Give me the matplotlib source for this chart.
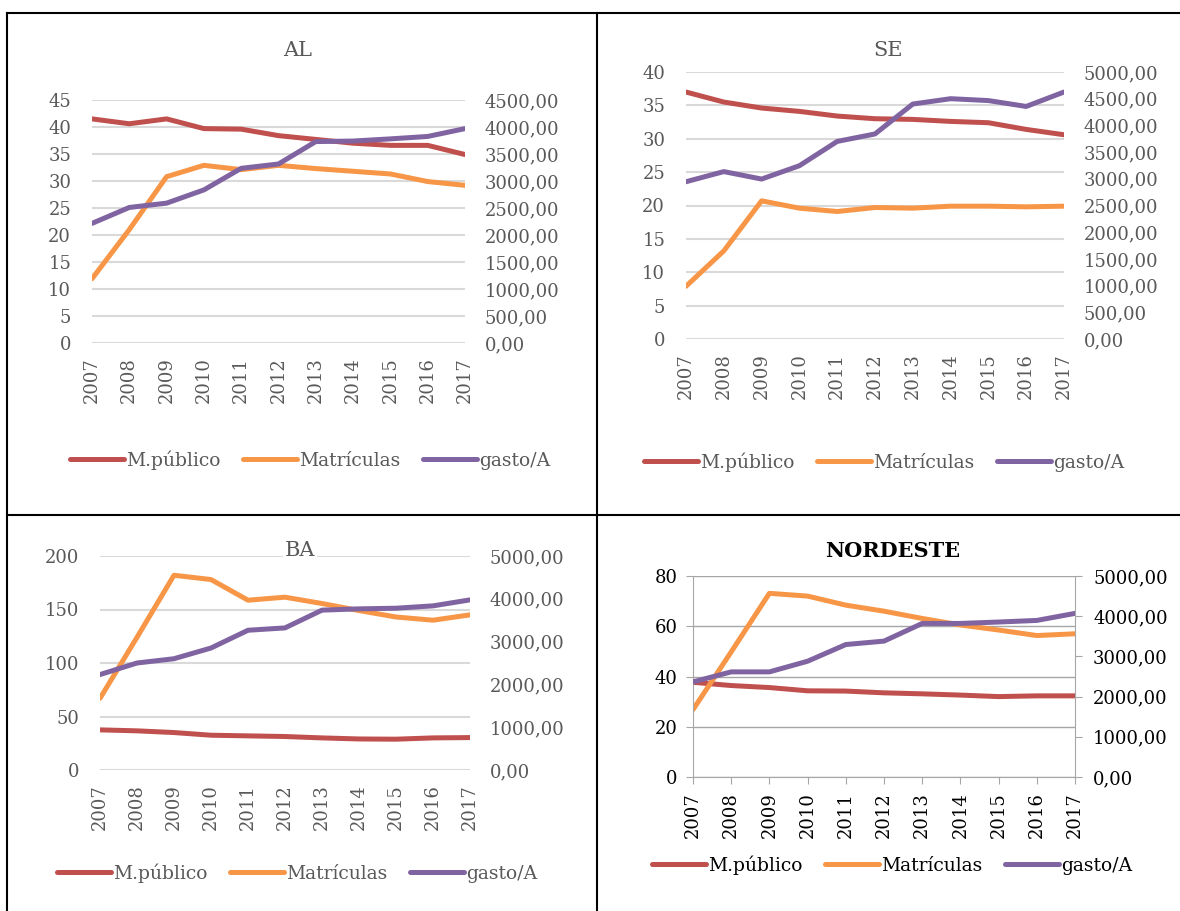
import matplotlib.pyplot as plt
from matplotlib.lines import Line2D
from matplotlib.ticker import FuncFormatter, MultipleLocator

plt.rcParams['font.family'] = ['DejaVu Serif']

years = [2007, 2008, 2009, 2010, 2011, 2012, 2013, 2014, 2015, 2016, 2017]
labels = ["M.público", "Matrículas", "gasto/A"]

# AL
al_mpub = [41.5, 40.6, 41.5, 39.7, 39.6, 38.4, 37.7, 37.0, 36.6, 36.6, 34.9]
al_matr = [11.9, 21.0, 30.8, 32.9, 32.1, 32.9, 32.3, 31.8, 31.3, 29.9, 29.2]
al_gasto = [2215, 2510, 2590, 2835, 3235, 3315, 3730, 3740, 3780, 3825, 3970]
# SE
se_mpub = [37.0, 35.5, 34.6, 34.1, 33.4, 33.0, 32.9, 32.6, 32.4, 31.4, 30.6]
se_matr = [7.9, 13.2, 20.7, 19.6, 19.1, 19.7, 19.6, 19.9, 19.9, 19.8, 19.9]
se_gasto = [2945, 3135, 2995, 3245, 3700, 3840, 4400, 4500, 4465, 4355, 4625]
# BA
ba_mpub = [37.5, 36.6, 35.0, 32.5, 31.9, 31.3, 30.0, 29.0, 28.8, 30.0, 30.3]
ba_matr = [67, 124, 182, 178, 158.7, 161.5, 155.6, 149, 143, 140, 145]
ba_gasto = [2230, 2500, 2600, 2850, 3265, 3320, 3735, 3765, 3780, 3835, 3975]
# NORDESTE
ne_mpub = [37.7, 36.4, 35.6, 34.3, 34.2, 33.5, 33.1, 32.6, 32.0, 32.3, 32.3]
ne_matr = [26.8, 49.8, 73.1, 72.0, 68.4, 66.0, 63.1, 60.5, 58.5, 56.3, 57.0]
ne_gasto = [2365, 2615, 2615, 2880, 3295, 3380, 3820, 3820, 3855, 3895, 4070]

red = '#C0504D'
orange = '#F79646'
purple = '#8064A2'

W, H = 1180, 911
fig = plt.figure(figsize=(11.8, 9.11), dpi=100)


def box(x0, x1, ytop, ybot):
    return [x0 / W, 1 - ybot / H, (x1 - x0) / W, (ybot - ytop) / H]


def fmt_right(v, pos):
    return ('%.2f' % v).replace('.', ',')


def panel(rect, title, mpub, matr, gasto, lmax, lstep, rmax, rstep,
          title_xy, legend_xy, nordeste=False):
    ax = fig.add_axes(box(*rect))
    ax2 = ax.twinx()
    txt = '#000000' if nordeste else '#595959'
    grid = '#A6A6A6' if nordeste else '#D9D9D9'
    ax.plot(years, mpub, color=red, lw=3.6, solid_capstyle='round')
    ax.plot(years, matr, color=orange, lw=3.6, solid_capstyle='round')
    ax2.plot(years, gasto, color=purple, lw=3.6, solid_capstyle='round')
    ax.set_xlim(years[0], years[-1])
    ax.set_ylim(0, lmax)
    ax2.set_ylim(0, rmax)
    ax.yaxis.set_major_locator(MultipleLocator(lstep))
    ax2.yaxis.set_major_locator(MultipleLocator(rstep))
    ax2.yaxis.set_major_formatter(FuncFormatter(fmt_right))
    ax.set_xticks(years)
    ax.set_xticklabels([str(y) for y in years], rotation=90)
    ax.grid(axis='y', color=grid, lw=1.5 if not nordeste else 1.0)
    ax.set_axisbelow(True)
    for a in (ax, ax2):
        a.set_facecolor('none')
        for s in a.spines.values():
            s.set_visible(False)
        a.tick_params(labelsize=13, colors=txt)
    if nordeste:
        ax.spines['left'].set_visible(True)
        ax.spines['bottom'].set_visible(True)
        ax2.spines['right'].set_visible(True)
        for s in (ax.spines['left'], ax.spines['bottom'], ax2.spines['right']):
            s.set_color('#A6A6A6')
        ax.tick_params(axis='both', length=5, color='#A6A6A6', pad=6)
        ax2.tick_params(axis='y', length=5, color='#A6A6A6', pad=8)
    else:
        ax.tick_params(axis='y', length=0, pad=15)
        ax.tick_params(axis='x', length=0, pad=10)
        ax2.tick_params(axis='y', length=0, pad=14)
    bg = dict(facecolor='white', edgecolor='none', pad=1) if title == 'BA' else None
    fig.text(title_xy[0] / W, 1 - title_xy[1] / H, title, ha='center', va='center',
             fontsize=15, color='#000000' if nordeste else '#595959',
             fontweight='bold' if nordeste else 'normal', bbox=bg)
    handles = [Line2D([], [], color=c, lw=3.6, solid_capstyle='round')
               for c in (red, orange, purple)]
    fig.legend(handles, labels, loc='center', ncol=3, frameon=False,
               bbox_to_anchor=(legend_xy[0] / W, 1 - legend_xy[1] / H),
               fontsize=13.5, labelcolor=txt, handlelength=2.9,
               handletextpad=0.1, columnspacing=1.2)


panel((92, 465, 100, 343), 'AL', al_mpub, al_matr, al_gasto, 45, 5, 4500, 500,
      (298, 50), (310, 460))
panel((686, 1064, 72, 339), 'SE', se_mpub, se_matr, se_gasto, 40, 5, 5000, 500,
      (888, 50), (884, 462))
panel((100, 470, 556, 770), 'BA', ba_mpub, ba_matr, ba_gasto, 200, 50, 5000, 1000,
      (300, 551), (297, 873))
panel((693, 1075, 576, 777), 'NORDESTE', ne_mpub, ne_matr, ne_gasto, 80, 20, 5000, 1000,
      (893, 551), (892, 865), nordeste=True)

# table borders
for xs, ys in [((7, 1180), (13, 13)), ((7, 1180), (515, 515)),
               ((7, 7), (13, 911)), ((597, 597), (13, 911))]:
    fig.add_artist(Line2D([x / W for x in xs], [1 - y / H for y in ys],
                          color='black', lw=1.5))

fig.savefig('out.png', dpi=100)
